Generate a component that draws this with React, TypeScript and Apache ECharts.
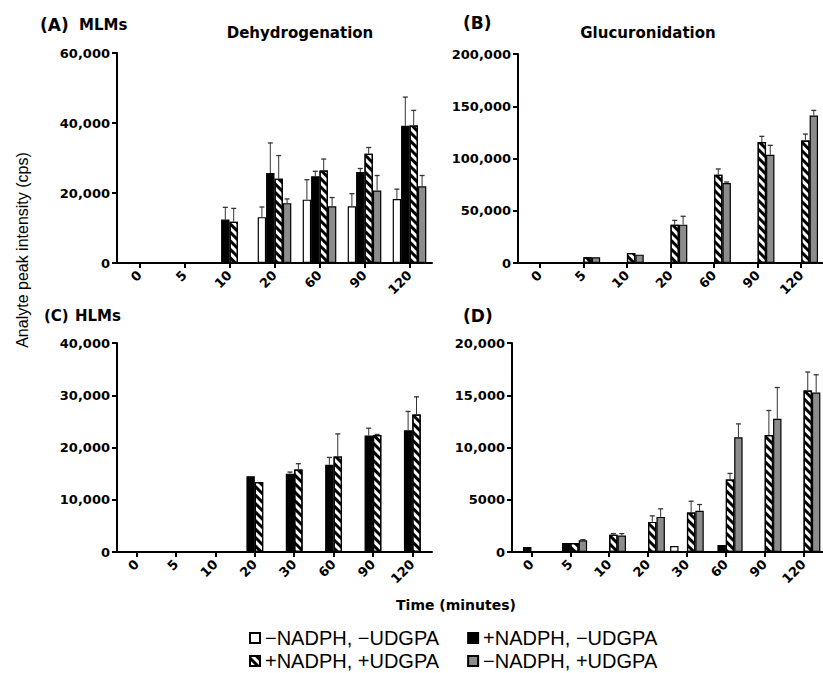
import React, { useEffect, useRef } from "react";
import * as echarts from "echarts";

// ---------- data ----------
const catsMLM = ["0", "5", "10", "20", "60", "90", "120"];
const catsHLM = ["0", "5", "10", "20", "30", "60", "90", "120"];
const seriesNames = [
  "\u2212NADPH, \u2212UDGPA",
  "+NADPH, \u2212UDGPA",
  "+NADPH, +UDGPA",
  "\u2212NADPH, +UDGPA",
];

// Panel A (MLMs, dehydrogenation)
const aWhite = [null, null, null, 13100, 18100, 16200, 18300];
const aWhiteSd = [null, null, null, 2900, 5700, 3600, 2800];
const aBlack = [null, null, 12400, 25700, 24800, 26000, 39200];
const aBlackSd = [null, null, 3500, 8600, 1400, 1000, 8200];
const aHatch = [null, null, 11800, 24100, 26400, 31200, 39300];
const aHatchSd = [null, null, 3800, 6600, 3300, 1800, 4300];
const aGray = [null, null, null, 17100, 16200, 20700, 21900];
const aGraySd = [null, null, null, 1200, 2500, 4300, 3100];

// Panel B (MLMs, glucuronidation)
const bWhite = [null, null, null, null, null, null, null];
const bBlack = [null, null, null, null, null, null, null];
const bHatch = [null, 5400, 9600, 36700, 84500, 115800, 117200];
const bHatchSd = [null, 0, 0, 4100, 5500, 5400, 6200];
const bGray = [null, 5400, 8000, 36700, 76600, 103500, 141200];
const bGraySd = [null, 0, 0, 8000, 900, 9100, 4800];

// Panel C (HLMs, dehydrogenation)
const cWhite = [null, null, null, null, null, null, null, null];
const cBlack = [null, null, null, 14500, 15000, 16700, 22300, 23300];
const cBlackSd = [null, null, null, 0, 300, 1400, 1400, 3600];
const cHatch = [null, null, null, 13400, 15800, 18300, 22400, 26300];
const cHatchSd = [null, null, null, 0, 1100, 4300, 100, 3400];
const cGray = [null, null, null, null, null, null, null, null];

// Panel D (HLMs, glucuronidation)
const dWhite = [null, null, null, null, 580, null, null, null];
const dBlack = [480, 860, null, null, null, 670, null, null];
const dHatch = [null, 860, 1660, 2880, 3780, 6940, 11200, 15460];
const dHatchSd = [null, 0, 100, 580, 1080, 580, 2340, 1760];
const dGray = [null, 1120, 1570, 3360, 3940, 10980, 12740, 15260];
const dGraySd = [null, 60, 190, 770, 600, 1280, 3000, 1700];

const yTicksA = [0, 20000, 40000, 60000];
const yLabelsA = ["0", "20,000", "40,000", "60,000"];
const yTicksB = [0, 50000, 100000, 150000, 200000];
const yLabelsB = ["0", "50,000", "100,000", "150,000", "200,000"];
const yTicksC = [0, 10000, 20000, 30000, 40000];
const yLabelsC = ["0", "10,000", "20,000", "30,000", "40,000"];
const yTicksD = [0, 5000, 10000, 15000, 20000];
const yLabelsD = ["0", "5000", "10,000", "15,000", "20,000"];

// ---------- styling ----------
const BAR_W = 8.4;
const BOLD = '"DejaVu Sans", sans-serif';
const REG = '"Liberation Sans", Arial, sans-serif';

const slotStyles: any[] = [
  { color: "#ffffff", borderColor: "#000", borderWidth: 1.2 },
  { color: "#000000", borderColor: "#000", borderWidth: 1.2 },
  {
    color: "#ffffff",
    borderColor: "#000",
    borderWidth: 1.2,
    decal: {
      symbol: "rect",
      symbolSize: 1,
      color: "#000",
      dashArrayX: [1, 0],
      dashArrayY: [3, 2.4],
      rotation: Math.PI / 4,
    },
  },
  { color: "#8c8c8c", borderColor: "#000", borderWidth: 1.2 },
];

function panelSeries(
  idx: number,
  means: (number | null)[][],
  sds: ((number | null)[] | null)[]
) {
  const out: any[] = [];
  means.forEach((m, slot) => {
    out.push({
      type: "bar",
      name: seriesNames[slot],
      xAxisIndex: idx,
      yAxisIndex: idx,
      data: m,
      barWidth: BAR_W,
      barGap: "0%",
      itemStyle: slotStyles[slot],
      emphasis: { disabled: true },
    });
  });
  means.forEach((m, slot) => {
    const sd = sds[slot];
    if (!sd) return;
    const data: any[] = [];
    m.forEach((v, i) => {
      const s = sd[i];
      if (v != null && s != null && s > 0) data.push([i, v, v + s]);
    });
    out.push({
      type: "custom",
      xAxisIndex: idx,
      yAxisIndex: idx,
      z: 5,
      silent: true,
      encode: { x: 0, y: [1, 2] },
      data,
      renderItem: (params: any, api: any) => {
        const i = api.value(0);
        const a = api.coord([i, api.value(1)]);
        const b = api.coord([i, api.value(2)]);
        const x = a[0] + (slot - 1.5) * BAR_W;
        return {
          type: "group",
          children: [
            {
              type: "line",
              shape: { x1: x, y1: a[1], x2: x, y2: b[1] },
              style: { stroke: "#333", lineWidth: 1 },
            },
            {
              type: "line",
              shape: { x1: x - 2.5, y1: b[1], x2: x + 2.5, y2: b[1] },
              style: { stroke: "#333", lineWidth: 1.3 },
            },
          ],
        };
      },
    });
  });
  return out;
}

function xAxisFor(idx: number, cats: string[]) {
  return {
    type: "category",
    gridIndex: idx,
    data: cats,
    boundaryGap: true,
    axisLine: { show: true, lineStyle: { color: "#000", width: 2 } },
    axisTick: {
      show: true,
      alignWithLabel: true,
      length: 5,
      lineStyle: { color: "#000", width: 2 },
    },
    axisLabel: {
      interval: 0,
      rotate: 45,
      margin: 10,
      color: "#000",
      fontFamily: BOLD,
      fontWeight: "bold",
      fontSize: 13,
    },
    splitLine: { show: false },
  };
}

function yAxisFor(idx: number, ticks: number[], labels: string[]) {
  return {
    type: "value",
    gridIndex: idx,
    min: 0,
    max: ticks[ticks.length - 1],
    interval: ticks[1] - ticks[0],
    axisLine: { show: true, lineStyle: { color: "#000", width: 2 } },
    axisTick: { show: true, length: 5, lineStyle: { color: "#000", width: 2 } },
    axisLabel: {
      margin: 7,
      color: "#000",
      fontFamily: BOLD,
      fontWeight: "bold",
      fontSize: 13,
      formatter: (v: number) => {
        const k = ticks.indexOf(v);
        return k >= 0 ? labels[k] : "";
      },
    },
    splitLine: { show: false },
  };
}

function txt(text: string, x: number, y: number, size: number, opts: any = {}) {
  return {
    type: "text",
    x,
    y,
    rotation: opts.rotation || 0,
    silent: true,
    style: {
      text,
      fill: "#000",
      fontFamily: opts.family || BOLD,
      fontWeight: opts.weight || "bold",
      fontSize: size,
      textAlign: opts.align || "left",
      textVerticalAlign: "middle",
    },
  };
}

export default function App() {
  const ref = useRef<HTMLDivElement>(null);
  useEffect(() => {
    if (!ref.current) return;
    const chart = echarts.init(ref.current, null, { renderer: "svg" });
    const legendBase = {
      left: 249,
      orient: "horizontal",
      itemWidth: 10,
      itemHeight: 10,
      itemGap: 28,
      icon: "rect",
      selectedMode: false,
      padding: 0,
      textStyle: { fontFamily: REG, fontSize: 20, color: "#000" },
    };
    chart.setOption({
      animation: false,
      backgroundColor: "#fff",
      grid: [
        { left: 117, top: 53, width: 315, height: 210 },
        { left: 518, top: 54, width: 315, height: 209 },
        { left: 117, top: 343, width: 315, height: 209 },
        { left: 512, top: 343, width: 315, height: 209 },
      ],
      xAxis: [
        xAxisFor(0, catsMLM),
        xAxisFor(1, catsMLM),
        xAxisFor(2, catsHLM),
        xAxisFor(3, catsHLM),
      ],
      yAxis: [
        yAxisFor(0, yTicksA, yLabelsA),
        yAxisFor(1, yTicksB, yLabelsB),
        yAxisFor(2, yTicksC, yLabelsC),
        yAxisFor(3, yTicksD, yLabelsD),
      ],
      legend: [
        { ...legendBase, top: 628, data: [seriesNames[0], seriesNames[1]] },
        { ...legendBase, top: 651, data: [seriesNames[2], seriesNames[3]] },
      ],
      graphic: [
        txt("(A)", 40, 25, 17),
        txt("MLMs", 79, 25, 15),
        txt("Dehydrogenation", 300, 33, 15, { align: "center" }),
        txt("(B)", 463, 23, 17),
        txt("Glucuronidation", 648, 33, 15, { align: "center" }),
        txt("(C)", 44, 316, 15),
        txt("HLMs", 75, 316, 15),
        txt("(D)", 463, 316, 17),
        txt("Time (minutes)", 456, 605, 14, { align: "center" }),
        txt("Analyte peak intensity (cps)", 22, 250, 16, {
          rotation: Math.PI / 2,
          align: "center",
          family: REG,
          weight: "normal",
        }),
      ],
      series: [
        ...panelSeries(0, [aWhite, aBlack, aHatch, aGray], [aWhiteSd, aBlackSd, aHatchSd, aGraySd]),
        ...panelSeries(1, [bWhite, bBlack, bHatch, bGray], [null, null, bHatchSd, bGraySd]),
        ...panelSeries(2, [cWhite, cBlack, cHatch, cGray], [null, cBlackSd, cHatchSd, null]),
        ...panelSeries(3, [dWhite, dBlack, dHatch, dGray], [null, null, dHatchSd, dGraySd]),
      ],
    });
    return () => chart.dispose();
  }, []);
  return (
    <div
      ref={ref}
      style={{ position: "absolute", left: 0, top: 0, width: 823, height: 673 }}
    />
  );
}
